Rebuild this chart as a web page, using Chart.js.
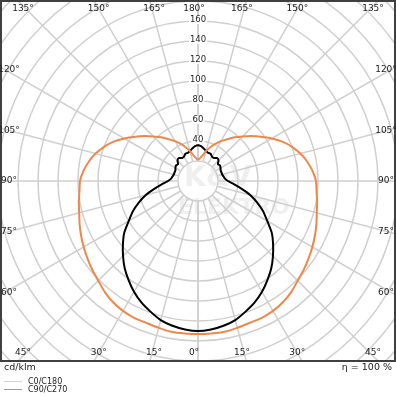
<!DOCTYPE html>
<html>
<head>
<meta charset="utf-8">
<script src="https://cdn.jsdelivr.net/npm/chart.js@4"></script>
<style>
  html, body { margin: 0; padding: 0; background: #fff; }
  #wrap { width: 396px; height: 396px; position: relative; }
</style>
</head>
<body>
<div id="wrap"><canvas id="polarChart"></canvas></div>
<script>
  // gamma angles (deg) and luminous intensity in cd/klm
  const gammaDeg = [0, 5, 10, 15, 20, 25, 30, 35, 40, 45, 50, 55, 60, 65, 70, 75, 80, 85, 90,
    95, 100, 105, 110, 115, 120, 125, 130, 135, 140, 145, 150, 155, 160, 165, 170, 175, 180];
  const c0c180 = [153, 153, 153, 152, 151, 151, 150, 148, 145, 141, 138, 135, 132, 129, 126, 123, 121, 119, 118,
    115, 111, 106, 100, 93, 85, 77, 70, 63, 57, 51, 46, 41, 36, 31, 26, 23, 21];
  const c90c270 = [150, 149, 147, 144, 139, 134, 128, 121, 114, 106, 98, 90, 80, 72, 63, 54, 44, 36, 30,
    27, 26, 25, 25, 25, 26, 27, 26, 29, 30, 28, 28, 30, 30, 31, 33, 35, 36];

  const ringValues = [20, 40, 60, 80, 100, 120, 140, 160, 180, 200, 220, 240, 260, 280];
  const ringLabels = [40, 60, 80, 100, 120, 140, 160];
  const spokeAngles = [0, 15, 30, 45, 60, 75, 90, 105, 120, 135, 150, 165, 180];

  function toXY(gammas, values) {
    const pts = [];
    // C180 / C270 half on the left, from 180 down to 0
    for (let i = gammas.length - 1; i >= 0; i--) {
      const a = gammas[i] * Math.PI / 180;
      pts.push({ x: -values[i] * Math.sin(a), y: -values[i] * Math.cos(a) });
    }
    // C0 / C90 half on the right
    for (let i = 1; i < gammas.length; i++) {
      const a = gammas[i] * Math.PI / 180;
      pts.push({ x: values[i] * Math.sin(a), y: -values[i] * Math.cos(a) });
    }
    return pts;
  }

  const FONT = '"DejaVu Sans", sans-serif';

  const polarGrid = {
    id: 'polarGrid',
    beforeDatasetsDraw(chart) {
      const { ctx, chartArea: area, scales: { x, y } } = chart;
      const cx = x.getPixelForValue(0);
      const cy = y.getPixelForValue(0);
      const unit = x.getPixelForValue(1) - cx;
      ctx.save();
      ctx.beginPath();
      ctx.rect(area.left, area.top, area.right - area.left, area.bottom - area.top);
      ctx.clip();

      // faint watermark
      ctx.fillStyle = '#efefef';
      ctx.font = 'bold 28px ' + FONT;
      ctx.textAlign = 'left';
      ctx.textBaseline = 'middle';
      ctx.fillText('K&V', cx - 14, cy - 2);
      ctx.font = 'bold 22px ' + FONT;
      ctx.fillText('ELEKTRO', cx - 20, cy + 27);

      ctx.strokeStyle = '#cfcfcf';
      ctx.lineWidth = 1.5;
      ringValues.forEach(r => {
        ctx.beginPath();
        ctx.arc(cx, cy, r * unit, 0, Math.PI * 2);
        ctx.stroke();
      });
      const r0 = ringValues[0] * unit;
      const r1 = 400;
      spokeAngles.forEach(g => {
        const a = g * Math.PI / 180;
        [1, -1].forEach(side => {
          ctx.beginPath();
          ctx.moveTo(cx + side * r0 * Math.sin(a), cy + r0 * Math.cos(a));
          ctx.lineTo(cx + side * r1 * Math.sin(a), cy + r1 * Math.cos(a));
          ctx.stroke();
        });
      });

      // ring labels along the 180 spoke
      ctx.font = '8.5px ' + FONT;
      ctx.textAlign = 'center';
      ctx.textBaseline = 'middle';
      ringLabels.forEach(v => {
        const py = y.getPixelForValue(v) - 1;
        const w = ctx.measureText(String(v)).width;
        ctx.fillStyle = '#fff';
        ctx.fillRect(cx - w / 2 - 1, py - 4, w + 2, 8);
        ctx.fillStyle = '#222';
        ctx.fillText(String(v), cx, py);
      });
      ctx.restore();
    },
    afterDatasetsDraw(chart) {
      const { ctx, chartArea: area, scales: { x, y } } = chart;
      const cx = x.getPixelForValue(0);
      const cy = y.getPixelForValue(0);
      ctx.save();
      // frame
      ctx.strokeStyle = '#404040';
      ctx.lineWidth = 2;
      ctx.strokeRect(area.left - 1, area.top - 1, area.right - area.left + 2, area.bottom - area.top + 2);

      ctx.font = '9px ' + FONT;
      ctx.fillStyle = '#222';
      ctx.textBaseline = 'middle';
      ctx.textAlign = 'center';
      const halfW = cx - area.left;
      const halfTop = cy - area.top;
      const halfBot = area.bottom - cy;
      spokeAngles.forEach(g => {
        const a = g * Math.PI / 180;
        const label = g + '\u00b0';
        [1, -1].forEach(side => {
          if ((g === 0 || g === 180) && side < 0) return;
          if (g === 0 || (g < 90 && Math.tan(a) * halfBot < halfW - 2)) {
            // exits through the bottom edge
            const px = cx + side * Math.tan(a) * halfBot - side * 4;
            ctx.fillText(label, px, area.bottom - 7);
          } else if (g === 180 || (g > 90 && Math.tan(Math.PI - a) * halfTop < halfW - 2)) {
            const px = cx + side * Math.tan(Math.PI - a) * halfTop - side * 4;
            ctx.fillText(label, px, area.top + 7);
          } else {
            const py = cy + halfW / Math.tan(a);
            const px = side > 0 ? area.right - 8 : area.left + 7;
            ctx.fillText(label, px, py + (g < 90 ? -2 : g > 90 ? 2 : 0));
          }
        });
      });

      // footer texts
      ctx.font = '9.5px ' + FONT;
      ctx.textAlign = 'left';
      ctx.fillText('cd/klm', 4, 368);
      ctx.textAlign = 'right';
      ctx.fillText('\u03b7 = 100 %', 392, 368);

      // legend
      ctx.font = '8px ' + FONT;
      ctx.textAlign = 'left';
      ctx.lineWidth = 1;
      ctx.strokeStyle = '#f8c9a6';
      ctx.beginPath(); ctx.moveTo(4, 381.5); ctx.lineTo(22, 381.5); ctx.stroke();
      ctx.fillText('C0/C180', 28, 382);
      ctx.strokeStyle = '#9a9a9a';
      ctx.beginPath(); ctx.moveTo(4, 389.5); ctx.lineTo(22, 389.5); ctx.stroke();
      ctx.fillText('C90/C270', 28, 390);
      ctx.restore();
    }
  };

  new Chart(document.getElementById('polarChart'), {
    type: 'scatter',
    data: {
      datasets: [
        {
          label: 'C0/C180',
          data: toXY(gammaDeg, c0c180),
          showLine: true,
          borderColor: '#f0874a',
          borderWidth: 2,
          pointRadius: 0,
          tension: 0.15
        },
        {
          label: 'C90/C270',
          data: toXY(gammaDeg, c90c270),
          showLine: true,
          borderColor: '#000000',
          borderWidth: 2,
          pointRadius: 0,
          tension: 0.15
        }
      ]
    },
    options: {
      responsive: true,
      maintainAspectRatio: false,
      animation: false,
      layout: { padding: { left: 2, right: 2, top: 2, bottom: 36 } },
      plugins: { legend: { display: false }, tooltip: { enabled: false } },
      scales: {
        x: { type: 'linear', min: -196, max: 196, display: false },
        y: { type: 'linear', min: -179, max: 179, display: false }
      }
    },
    plugins: [polarGrid]
  });
</script>
</body>
</html>
